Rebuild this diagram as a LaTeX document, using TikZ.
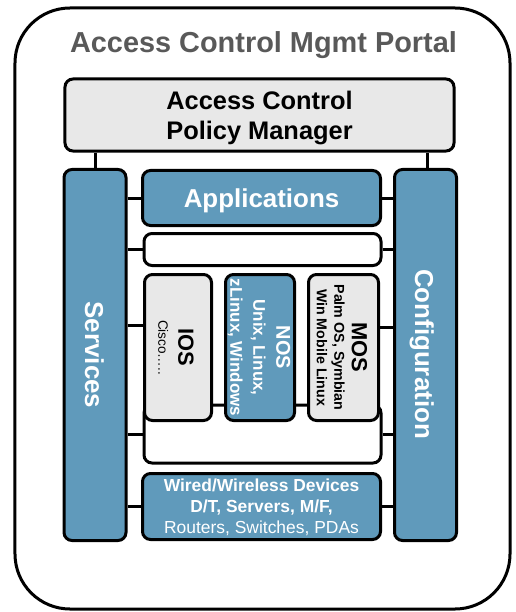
\documentclass[tikz,border=0pt]{standalone}
\usepackage{fontspec}
\setmainfont{Liberation Sans}
\usetikzlibrary{calc}
\definecolor{paneblue}{HTML}{609ABB}
\definecolor{panegray}{HTML}{E8E8E8}
\definecolor{titlegray}{HTML}{595959}

\begin{document}
\begin{tikzpicture}[x=1bp,y=-1bp,
  frame/.style={draw=black, line width=3bp, rounded corners=8bp, inner sep=0pt},
  bluebox/.style={frame, fill=paneblue},
  graybox/.style={frame, fill=panegray},
  whitebox/.style={frame, fill=white},
  link/.style={draw=black, line width=3bp},
  lbl/.style={inner sep=0pt, align=center, font=\bfseries}
]
\useasboundingbox (0,0) rectangle (516,612);

% outer portal frame
\node (portal) [draw=black, line width=3bp, rounded corners=55bp, minimum width=495bp, minimum height=601bp, inner sep=0pt] at (262.5,308.5) {};
\node (title) [lbl, anchor=base, text=titlegray, font=\bfseries\fontsize{29}{33}\selectfont] at (263.5,53) {Access Control Mgmt Portal};

% policy manager
\node (pm) [graybox, minimum width=389bp, minimum height=72bp] at (259.5,115) {};
\node (pmtext) [lbl, font=\bfseries\fontsize{25.5}{31}\selectfont] at (259.5,118) {Access Control\\Policy Manager};

% side columns
\node (services) [bluebox, minimum width=62bp, minimum height=371bp] at (95,355) {};
\node (config) [bluebox, minimum width=62bp, minimum height=371bp] at (425.5,355) {};
\node (servicestext) [lbl, anchor=base, rotate=-90, text=white, font=\bfseries\fontsize{26}{30}\selectfont] at (85,355) {Services};
\node (configtext) [lbl, anchor=base, rotate=-90, text=white, font=\bfseries\fontsize{26}{30}\selectfont] at (415,354) {Configuration};

% middle stack
\node (apps) [bluebox, minimum width=238bp, minimum height=55bp] at (261.5,198) {};
\node (appstext) [lbl, anchor=base, text=white, font=\bfseries\fontsize{26}{30}\selectfont] at (261.5,207) {Applications};
\node (blank) [whitebox, minimum width=237bp, minimum height=32bp] at (262.5,249.5) {};
\node (tray) [whitebox, minimum width=237bp, minimum height=58bp] at (262.5,434) {};

\node (ios) [graybox, minimum width=67bp, minimum height=146bp] at (178,347.5) {};
\node (nos) [bluebox, minimum width=69bp, minimum height=146bp] at (260,347.5) {};
\node (mos) [graybox, minimum width=70bp, minimum height=146bp] at (343.5,347.5) {};

\node (iostext) [lbl, rotate=-90, font=\fontsize{13.6}{20}\selectfont] at (176,347.5)
  {{\bfseries\fontsize{22}{22}\selectfont IOS}\\Cisco…..};
\node (nostext) [lbl, rotate=-90, text=white, font=\bfseries\fontsize{17}{23}\selectfont] at (259,347.5)
  {{\fontsize{20}{20}\selectfont NOS}\\Unix, Linux,\\zLinux, Windows};
\node (mostext) [lbl, rotate=-90, font=\bfseries\fontsize{14.3}{17.5}\selectfont] at (342,347.5)
  {{\fontsize{22}{22}\selectfont MOS}\\Palm OS, Symbian\\Win Mobile Linux};

\node (wired) [bluebox, minimum width=238bp, minimum height=66bp] at (261.5,506.5) {};
\node (wiredtext) [lbl, text=white, font=\fontsize{17.5}{21}\selectfont] at (261.5,507)
  {{\bfseries Wired/Wireless Devices}\\{\bfseries D/T, Servers, M/F,}\\{\mdseries Routers, Switches, PDAs}};

% connectors
\coordinate (iosport) at ($(ios.west)+(0,-22.5)$);
\coordinate (mosport) at ($(mos.east)+(0,-20.5)$);

\draw[link] (services.north |- pm.south) -- (services.north);
\draw[link] ([xshift=1.5bp]config.north |- pm.south) -- ([xshift=1.5bp]config.north);

\draw[link] (services.east |- apps.west) -- (apps.west);
\draw[link] (services.east |- blank.west) -- (blank.west);
\draw[link] (services.east |- iosport) -- (iosport);
\draw[link] (services.east |- tray.west) -- (tray.west);
\draw[link] (services.east |- wired.west) -- (wired.west);

\draw[link] (apps.east) -- (config.west |- apps.east);
\draw[link] (blank.east) -- (config.west |- blank.east);
\draw[link] (mosport) -- (config.west |- mosport);
\draw[link] (tray.east) -- (config.west |- tray.east);
\draw[link] (wired.east) -- (config.west |- wired.east);
\end{tikzpicture}
\end{document}
